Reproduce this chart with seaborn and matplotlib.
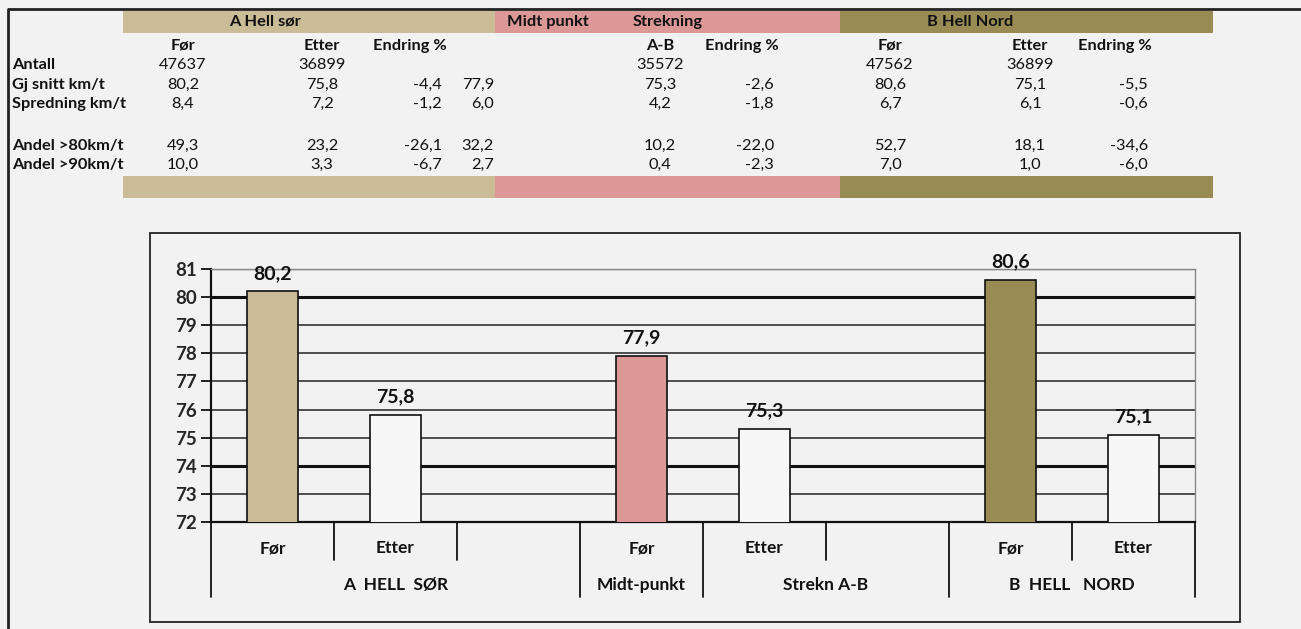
import numpy as np
import pandas as pd
import matplotlib
matplotlib.use("Agg")
import matplotlib.pyplot as plt
import matplotlib.transforms as mtransforms
from matplotlib.patches import Rectangle
from matplotlib.lines import Line2D
import seaborn as sns

# ---------------- data ----------------
row_labels = ["Antall", "Gj snitt km/t", "Spredning km/t", "", "Andel >80km/t", "Andel >90km/t"]
a_for = [47637, 80.2, 8.4, None, 49.3, 10.0]
a_etter = [36899, 75.8, 7.2, None, 23.2, 3.3]
a_endr = [None, -4.4, -1.2, None, -26.1, -6.7]
midt = [None, 77.9, 6.0, None, 32.2, 2.7]
strek = [35572, 75.3, 4.2, None, 10.2, 0.4]
s_endr = [None, -2.6, -1.8, None, -22.0, -2.3]
b_for = [47562, 80.6, 6.7, None, 52.7, 7.0]
b_etter = [36899, 75.1, 6.1, None, 18.1, 1.0]
b_endr = [None, -5.5, -0.6, None, -34.6, -6.0]

slots = ["A Før", "A Etter", "gap1", "Midt Før", "Strekn Etter", "gap2", "B Før", "B Etter"]
bar_slots = ["A Før", "A Etter", "Midt Før", "Strekn Etter", "B Før", "B Etter"]
bar_speed = [80.2, 75.8, 77.9, 75.3, 80.6, 75.1]
tick_labels = ["Før", "Etter", "", "Før", "Etter", "", "Før", "Etter"]
groups = [("A  HELL  SØR", -0.5, 2.5), ("Midt-punkt", 2.5, 3.5),
          ("Strekn A-B", 3.5, 5.5), ("B  HELL   NORD", 5.5, 7.5)]

TAN, PINK, OLIVE, BG = "#c9bc96", "#dc9897", "#988b53", "#f2f2f2"
palette = {"A Før": TAN, "A Etter": "#f7f7f7", "Midt Før": PINK,
           "Strekn Etter": "#f7f7f7", "B Før": OLIVE, "B Etter": "#f7f7f7"}

sns.set_theme(style="white")
plt.rcParams["font.family"] = ["Lato", "DejaVu Sans"]

W, H = 1301, 629
fig = plt.figure(figsize=(W / 100, H / 100), dpi=100, facecolor=BG)


def fx(x):
    return x / W


def fy(y):
    return 1 - y / H


def fmt(v):
    if v is None:
        return ""
    if abs(v) >= 1000:
        return f"{int(v)}"
    return f"{v:.1f}".replace(".", ",")


# outer frame
fig.add_artist(Line2D([fx(8), fx(8), fx(1301)], [fy(629), fy(9), fy(9)],
                      color="#222222", lw=2, transform=fig.transFigure, zorder=-2))

# table bands
for (x0, x1, c) in [(123, 495, TAN), (495, 840, PINK), (840, 1213, OLIVE)]:
    for (y0, y1) in [(11, 33), (176, 198)]:
        fig.add_artist(Rectangle((fx(x0), fy(y1)), fx(x1) - fx(x0), fy(y0) - fy(y1),
                                 transform=fig.transFigure, color=c, lw=0, zorder=-2))

TS = 11.8
hdr = [("A Hell sør", 265, "center"), ("Midt punkt", 548, "center"),
       ("Strekning", 668, "center"), ("B Hell Nord", 970, "center")]
for t, x, ha in hdr:
    fig.text(fx(x), fy(22), t, ha=ha, va="center", fontsize=TS, fontweight="bold", color="#111111")

sub = [("Før", 183), ("Etter", 322), ("Endring %", 410), ("A-B", 660), ("Endring %", 742),
       ("Før", 890), ("Etter", 1030), ("Endring %", 1115)]
for t, x in sub:
    fig.text(fx(x), fy(46), t, ha="center", va="center", fontsize=TS, fontweight="bold", color="#111111")

row_y = [65, 85, 104, 125, 146, 165]
cols = [(a_for, 183, "center"), (a_etter, 322, "center"), (a_endr, 442, "right"),
        (midt, 494, "right"), (strek, 660, "center"), (s_endr, 774, "right"),
        (b_for, 890, "center"), (b_etter, 1030, "center"), (b_endr, 1148, "right")]
for i, lab in enumerate(row_labels):
    fig.text(fx(12), fy(row_y[i]), lab, ha="left", va="center", fontsize=TS,
             fontweight="bold", color="#111111")
    for vals, x, ha in cols:
        fig.text(fx(x), fy(row_y[i]), fmt(vals[i]), ha=ha, va="center", fontsize=TS, color="#111111")

# chart box (behind the axes)
fig.add_artist(Rectangle((fx(150), fy(622)), fx(1240) - fx(150), fy(233) - fy(622),
                         transform=fig.transFigure, facecolor=BG, edgecolor="#222222",
                         lw=1.3, zorder=-1))

# ---------------- bar chart ----------------
ax = fig.add_axes([fx(211), fy(522), fx(1195) - fx(211), fy(269) - fy(522)])
ax.set_zorder(2)
ax.set_facecolor(BG)
df = pd.DataFrame({"slot": bar_slots, "speed": bar_speed})
sns.barplot(data=df, x="slot", y="speed", hue="slot", order=slots, hue_order=bar_slots,
            palette=palette, saturation=1, width=0.42, edgecolor="#111111", linewidth=1.2,
            legend=False, ax=ax, dodge=False, zorder=3)
ax.set_ylim(72, 81)
ax.set_xlim(-0.5, 7.5)
ax.set_yticks(range(72, 82))
ax.set_xticks([])
ax.set_xlabel("")
ax.set_ylabel("")
ax.set_axisbelow(True)
ax.yaxis.grid(True, color="#333333", lw=1.2)
for v, gl in zip(range(72, 82), ax.get_ygridlines()):
    if v in (80, 74):
        gl.set_linewidth(2.2)
        gl.set_color("#111111")
    if v == 81:
        gl.set_color("#888888")
        gl.set_linewidth(1.0)
for lbl in ax.get_yticklabels():
    lbl.set_fontweight("bold")
ax.tick_params(axis="y", which="major", direction="out", length=7, width=1.3,
               color="#111111", labelsize=13.5, pad=3, left=True)
for s in ["left", "bottom"]:
    ax.spines[s].set_color("#111111")
    ax.spines[s].set_linewidth(1.6)
for s in ["top", "right"]:
    ax.spines[s].set_color("#888888")
    ax.spines[s].set_linewidth(1.0)

for cont in ax.containers:
    labs = [fmt(b.get_height()) if not np.isnan(b.get_height()) else "" for b in cont]
    ax.bar_label(cont, labels=labs, padding=7, fontsize=14, fontweight="bold", color="#111111")

# category axis
trans = mtransforms.blended_transform_factory(ax.transData, ax.transAxes)
for xs in [0.5, 1.5, 4.5, 6.5]:
    ax.add_line(Line2D([xs, xs], [0, -0.15], transform=trans, color="#111111", lw=1.3, clip_on=False))
for xs in [-0.5, 2.5, 3.5, 5.5, 7.5]:
    ax.add_line(Line2D([xs, xs], [0, -0.296], transform=trans, color="#111111", lw=1.3, clip_on=False))
for i, t in enumerate(tick_labels):
    ax.text(i, -0.103, t, transform=trans, ha="center", va="center", fontsize=12.5,
            fontweight="bold", color="#111111")
for t, a, b in groups:
    ax.text((a + b) / 2, -0.249, t, transform=trans, ha="center", va="center", fontsize=12.5,
            fontweight="bold", color="#111111")

fig.savefig("out.png", dpi=100, facecolor=BG)
